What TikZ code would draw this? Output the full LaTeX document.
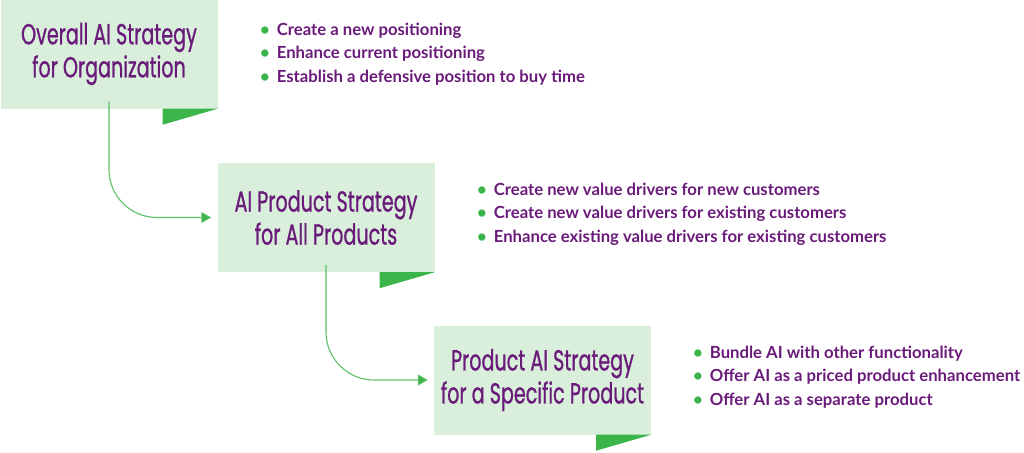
\documentclass[tikz,border=0pt]{standalone}
\usepackage{fontspec}
\usetikzlibrary{arrows.meta}
\newfontfamily\titlefont[FakeStretch=0.66,FakeBold=0.8]{Poppins}
\newfontfamily\listfont{Lato}
\definecolor{boxgreen}{HTML}{D9EFDC}
\definecolor{darkgreen}{HTML}{3BB54A}
\definecolor{linegreen}{HTML}{5DC067}
\definecolor{purp}{HTML}{6A1B7A}
\begin{document}
\begin{tikzpicture}[x=1pt,y=-1pt,
  stratbox/.style={fill=boxgreen, draw=none, minimum width=217pt, minimum height=109pt, inner sep=0pt,
    align=center, text=purp, font=\titlefont\fontsize{29}{33}\selectfont},
  fold/.style={fill=darkgreen, draw=none},
  conn/.style={draw=linegreen, line width=1.1pt, rounded corners=48pt, -{Triangle[length=10pt,width=11pt,fill=darkgreen]}},
  bulletlist/.style={anchor=north west, align=left, text=purp, inner sep=0pt,
    font=\listfont\bfseries\fontsize{16.7}{23.3}\selectfont}]
\useasboundingbox (0,0) rectangle (1024,452);
% boxes
\node[stratbox] (b1) at (109,54) {Overall AI Strategy\\for Organization};
\node[stratbox] (b2) at (326,217.5) {AI Product Strategy\\for All Products};
\node[stratbox] (b3) at (542.5,380) {Product AI Strategy\\for a Specific Product};
% folds
\fill[fold] (b1.south east) -- ++(-55,0) -- ++(0,16) -- cycle;
\fill[fold] (b2.south east) -- ++(-55,0) -- ++(0,16) -- cycle;
\fill[fold] (b3.south east) -- ++(-55,0) -- ++(0,16) -- cycle;
% connectors
\coordinate (s1) at ([yshift=7pt]b1.south);
\coordinate (s2) at ([yshift=7pt]b2.south);
\coordinate (t2) at ([xshift=-6pt]b2.west);
\coordinate (t3) at ([xshift=-6pt]b3.west);
\draw[conn] (s1) |- (t2);
\draw[conn] (s2) |- (t3);
% lists
\node[bulletlist] (l1) at (260,23) {%
  \textcolor{darkgreen}{\textbullet}\hspace{7pt}Create a new positioning\\
  \textcolor{darkgreen}{\textbullet}\hspace{7pt}Enhance current positioning\\
  \textcolor{darkgreen}{\textbullet}\hspace{7pt}Establish a defensive position to buy time};
\node[bulletlist] (l2) at (477,183) {%
  \textcolor{darkgreen}{\textbullet}\hspace{7pt}Create new value drivers for new customers\\
  \textcolor{darkgreen}{\textbullet}\hspace{7pt}Create new value drivers for existing customers\\
  \textcolor{darkgreen}{\textbullet}\hspace{7pt}Enhance existing value drivers for existing customers};
\node[bulletlist] (l3) at (693,346) {%
  \textcolor{darkgreen}{\textbullet}\hspace{7pt}Bundle AI with other functionality\\
  \textcolor{darkgreen}{\textbullet}\hspace{7pt}Offer AI as a priced product enhancement\\
  \textcolor{darkgreen}{\textbullet}\hspace{7pt}Offer AI as a separate product};
\end{tikzpicture}
\end{document}
